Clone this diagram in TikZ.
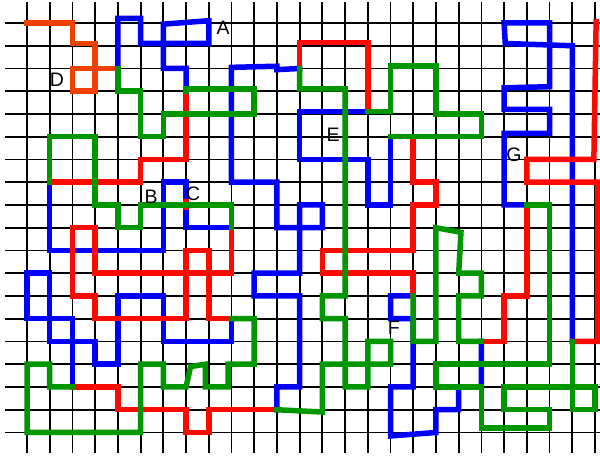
\documentclass[tikz,border=0pt]{standalone}
\usepackage{fontspec}
\setmainfont{Liberation Sans}
\definecolor{eblue}{RGB}{0,0,250}
\definecolor{ered}{RGB}{250,10,0}
\definecolor{egreen}{RGB}{0,150,0}
\definecolor{eorange}{RGB}{240,65,0}
\begin{document}
\begin{tikzpicture}[x=22.72pt,y=-22.75pt,
  gridline/.style={line width=1.8pt,black},
  edge/.style={line width=5.5pt,line join=miter,line cap=rect},
  bedge/.style={edge,draw=eblue},
  redge/.style={edge,draw=ered},
  gedge/.style={edge,draw=egreen},
  oedge/.style={edge,draw=eorange},
  lbl/.style={font=\fontsize{19.5}{20}\selectfont,inner sep=0pt,text=black}]
\useasboundingbox (-1.1884,-1.0110) rectangle (25.2201,19.1648);
\fill[white] (-1.1884,-1.0110) rectangle (25.2201,19.1648);
% grid
\foreach \r in {0,...,18} \draw[gridline] (-0.968,\r) -- (25.22,\r);
\foreach \c in {0,...,25} \draw[gridline] (\c,-0.923) -- (\c,18.90);
% vertices
\coordinate (v1) at (4,2);
\coordinate (v2) at (7,3);
\coordinate (v3) at (1,7);
\coordinate (v4) at (9,9);
\coordinate (v5) at (9,13);
\coordinate (v6) at (2,16);
\coordinate (v7) at (11,17);
\coordinate (v8) at (12,2);
\coordinate (v9) at (15,3.9);
\coordinate (v10) at (16,5);
\coordinate (v11) at (17,12);
\coordinate (v12) at (20,14);
\coordinate (v13) at (22,8);
\coordinate (v14) at (24,14);
\coordinate (start) at (0,0);
\coordinate (finish) at (25.05,-0.05);
% blue edges
\draw[bedge] (v1) -- (4,-0.2) -- (5,-0.2) -- (5,0.9) -- (8,0.9) -- (8,-0.1) -- (6,0.05) -- (6,2) -- (7,2) -- (v2);
\draw[bedge] (v3) -- (1,10) -- (6,10) -- (6,7) -- (7,7) -- (7,9) -- (v4);
\draw[bedge] (v5) -- (9,14) -- (6,14) -- (6,12) -- (4,12) -- (4,15) -- (3,15) -- (3,14) -- (1,14) -- (1,11) -- (0,11) -- (0,13) -- (2,13) -- (v6);
\draw[bedge] (v7) -- (11,16) -- (12,16) -- (12,12) -- (10,12) -- (10,11) -- (12,11) -- (12,8) -- (13,8) -- (13,9) -- (11,9) -- (11,7) -- (9,7) -- (9,1.95) -- (11,1.9) -- (11,2.05) -- (v8);
\draw[bedge] (v9) -- (12,3.9) -- (12,6) -- (15,6) -- (15,8) -- (16,8) -- (v10);
\draw[bedge] (v11) -- (16,12) -- (16,13) -- (17,13) -- (17,16) -- (16,16) -- (16,18.15) -- (18,18) -- (18,17) -- (19,17) -- (19,16) -- (20,16) -- (v12);
\draw[bedge] (v13) -- (21,8) -- (21,4.85) -- (23,4.85) -- (23,3.8) -- (21,3.8) -- (21,2.85) -- (23,2.8) -- (23,0) -- (21,0) -- (21.05,0.9) -- (24,1) -- (v14);
% red edges
\draw[redge] (v2) -- (7,6) -- (5,6) -- (5,7) -- (v3);
\draw[redge] (v4) -- (9,11) -- (3,11) -- (3,9) -- (2,9) -- (2,12) -- (3,12) -- (3,13) -- (7,13) -- (7,10) -- (8,10) -- (8,13) -- (v5);
\draw[redge] (v6) -- (4,16) -- (4,17) -- (7,17) -- (7,18) -- (8,18) -- (8,17) -- (v7);
\draw[redge] (v8) -- (12,0.85) -- (15,0.85) -- (v9);
\draw[redge] (v10) -- (17,5) -- (17,7) -- (18,7) -- (18,8) -- (17,8) -- (17,10) -- (13,10) -- (13,11) -- (17,11) -- (v11);
\draw[redge] (v12) -- (21,14) -- (21,12) -- (22,12) -- (v13);
\draw[redge] (v14) -- (25.12,14) -- (25.12,7) -- (22,7) -- (22,6) -- (24.95,6) -- (finish);
\draw[redge,line cap=butt] (7,7.75) -- (7,8.2);
% orange edge
\draw[oedge] (start) -- (2,0) -- (2,0.9) -- (3,0.9) -- (3,3) -- (2,3) -- (2,2) -- (v1);
% green edges
\draw[gedge] (v1) -- (4,3) -- (5,3) -- (5,5) -- (6,5) -- (6,4) -- (10,4) -- (10,2.9) -- (7,2.9) -- (v2);
\draw[gedge] (v3) -- (1,5) -- (3,5) -- (3,8) -- (4,8) -- (4,9) -- (5,9) -- (5,8) -- (9,8) -- (v4);
\draw[gedge] (v5) -- (10,13) -- (10,15) -- (8.85,15) -- (8.85,16) -- (7.85,16) -- (7.85,15) -- (7.2,15.1) -- (7,16) -- (6,16) -- (6,15) -- (5,15) -- (5,18) -- (0,18) -- (0,15) -- (1,15) -- (1,16) -- (v6);
\draw[gedge] (v8) -- (12,2.9) -- (14,2.9) -- (14,12) -- (13,12) -- (13,13) -- (14,13) -- (14,16) -- (15,16) -- (15,14) -- (16,14) -- (16,15) -- (13,15) -- (13,17.1) -- (v7);
\draw[gedge] (v9) -- (16,3.9) -- (16,1.9) -- (18,1.9) -- (18,4) -- (20,4) -- (20,5) -- (v10);
\draw[gedge] (v11) -- (17,14) -- (18,14) -- (18,9) -- (19.1,9.2) -- (19,11) -- (20,11) -- (20,12) -- (19,12) -- (19,14) -- (v12);
\draw[gedge] (v13) -- (23,8) -- (23,15) -- (18,15) -- (18,16) -- (20,16) -- (20,17.8) -- (23,17.8) -- (23,17) -- (21,17) -- (21,16) -- (25,16) -- (25,17) -- (24,17) -- (v14);
% labels
\node[lbl] (labA) at (8.627,0.22) {A};
\node[lbl] (labB) at (5.46,7.65) {B};
\node[lbl] (labC) at (7.31,7.52) {C};
\node[lbl] (labD) at (1.32,2.505) {D};
\node[lbl] (labE) at (13.47,4.92) {E};
\node[lbl] (labF) at (16.15,13.41) {F};
\node[lbl] (labG) at (21.43,5.80) {G};
\end{tikzpicture}
\end{document}
